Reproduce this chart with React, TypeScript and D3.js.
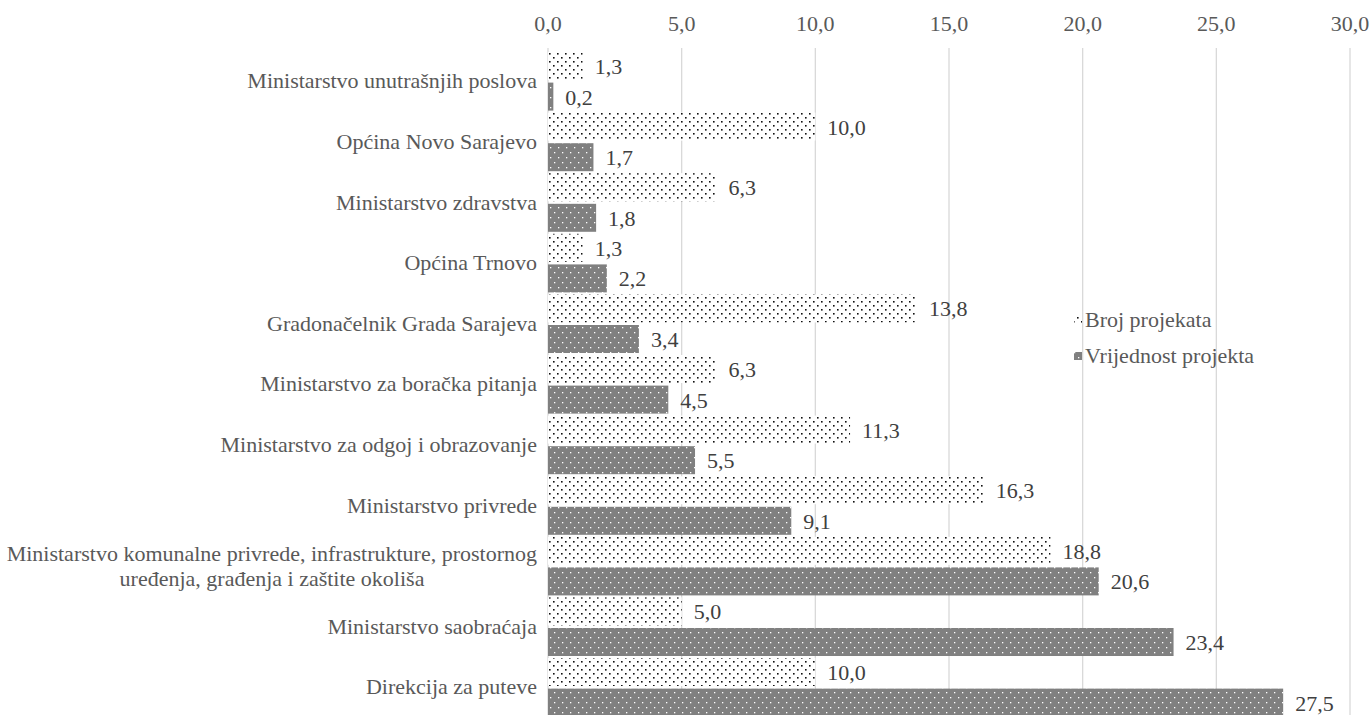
import * as d3 from "d3";

const categories = [
    "Ministarstvo unutrašnjih poslova",
    "Općina Novo Sarajevo",
    "Ministarstvo zdravstva",
    "Općina Trnovo",
    "Gradonačelnik Grada Sarajeva",
    "Ministarstvo za boračka pitanja",
    "Ministarstvo za odgoj i obrazovanje",
    "Ministarstvo privrede",
    "Ministarstvo komunalne privrede, infrastrukture, prostornog|uređenja, građenja i zaštite okoliša",
    "Ministarstvo saobraćaja",
    "Direkcija za puteve",
];
const brojProjekata = [1.3, 10.0, 6.3, 1.3, 13.8, 6.3, 11.3, 16.3, 18.8, 5.0, 10.0];
const vrijednostProjekta = [0.2, 1.7, 1.8, 2.2, 3.4, 4.5, 5.5, 9.1, 20.6, 23.4, 27.5];
const seriesNames = ["Broj projekata", "Vrijednost projekta"];
const xTicks = [0, 5, 10, 15, 20, 25, 30];

const FONT = "Liberation Serif";
const FS = 22;

export default function App() {
    const width = 1371;
    const height = 715;

    const fmt = (v: number) => d3.format(".1f")(v).replace(".", ",");

    const x = d3.scaleLinear().domain([0, 30]).range([548, 1350]);
    const y = d3.scaleBand<string>().domain(categories).range([51, 717.6]).paddingInner(0.033).paddingOuter(0.0165);
    const ys = d3.scaleBand<string>().domain(seriesNames).range([0, y.bandwidth()]).paddingInner(0.085);

    const rows = categories.map((c, i) => ({c, vals: [brojProjekata[i], vrijednostProjekta[i]]}));
    const fills = ["url(#dots)", "url(#grey)"];
    const txt = {fontFamily: FONT, fontSize: FS};

    return (
        <svg width={width} height={height}
             style={{position: "absolute", left: 0, top: 0, background: "#fff"}}>
            <defs>
                <pattern id="dots" patternUnits="userSpaceOnUse" width={8} height={8}>
                    <rect width={8} height={8} fill="#fff" />
                    <rect x={1} y={1} width={1.6} height={1.6} fill="#111" />
                    <rect x={5} y={5} width={1.6} height={1.6} fill="#111" />
                </pattern>
                <pattern id="grey" patternUnits="userSpaceOnUse" width={8} height={10}>
                    <rect width={8} height={10} fill="#808080" />
                    <rect x={2} y={2} width={1.3} height={1.3} fill="#fff" />
                    <rect x={6} y={7} width={1.3} height={1.3} fill="#fff" />
                </pattern>
            </defs>

            {/* gridlines + tick labels */}
            {xTicks.map(t => (
                <g key={t}>
                    <line x1={x(t)} x2={x(t)} y1={48} y2={height} stroke="#d9d9d9" strokeWidth={1.3} />
                    <text x={x(t)} y={31} textAnchor="middle" fill="#595959" style={txt}>{fmt(t)}</text>
                </g>
            ))}

            {/* bars and value labels */}
            {rows.map(r => seriesNames.map((s, j) => {
                const by = (y(r.c) ?? 0) + (ys(s) ?? 0);
                return (
                    <g key={r.c + s}>
                        <rect x={x(0)} y={by} width={x(r.vals[j]) - x(0)} height={ys.bandwidth()} fill={fills[j]} />
                        <text x={x(r.vals[j]) + 12} y={by + ys.bandwidth() / 2 + 8} fill="#404040" style={txt}>
                            {fmt(r.vals[j])}
                        </text>
                    </g>
                );
            }))}

            {/* category labels */}
            {rows.map(r => {
                const lines = r.c.split("|");
                const cy = (y(r.c) ?? 0) + y.bandwidth() / 2;
                if (lines.length === 1) {
                    return <text key={r.c} x={537} y={cy + 7} textAnchor="end" fill="#595959" style={txt}>{lines[0]}</text>;
                }
                return (
                    <g key={r.c}>
                        <text x={537} y={cy - 5} textAnchor="end" fill="#595959" style={txt}>{lines[0]}</text>
                        <text x={272} y={cy + 20} textAnchor="middle" fill="#595959" style={txt}>{lines[1]}</text>
                    </g>
                );
            })}

            {/* legend */}
            {seriesNames.map((s, i) => {
                const ly = 320 + i * 36;
                return (
                    <g key={s}>
                        <rect x={1074} y={ly - 4} width={8} height={8} fill={fills[i]} />
                        <text x={1085} y={ly + 7} fill="#595959" style={txt}>{s}</text>
                    </g>
                );
            })}
        </svg>
    );
}
